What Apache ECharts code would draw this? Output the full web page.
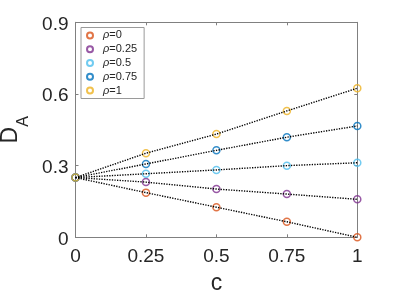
<!DOCTYPE html>
<html>
<head>
<meta charset="utf-8">
<script src="https://cdn.jsdelivr.net/npm/echarts@6/dist/echarts.min.js"></script>
<style>
html,body{margin:0;padding:0;background:#fff;}
#main{width:395px;height:296px;}
</style>
</head>
<body>
<div id="main"></div>
<script>
// Data
const cValues = [0, 0.25, 0.5, 0.75, 1];
const rhoLabels = ['0', '0.25', '0.5', '0.75', '1'];
const rho0 = [0.25, 0.187, 0.126, 0.065, 0.0];
const rho025 = [0.25, 0.231, 0.202, 0.181, 0.159];
const rho05 = [0.25, 0.266, 0.282, 0.300, 0.312];
const rho075 = [0.25, 0.307, 0.364, 0.419, 0.466];
const rho1 = [0.25, 0.352, 0.432, 0.529, 0.624];
const xTicks = [0, 0.25, 0.5, 0.75, 1];
const yTicks = [0, 0.3, 0.6, 0.9];

const seriesValues = [rho0, rho025, rho05, rho075, rho1];
const colors = ['#D95319', '#7E2F8E', '#4DBEEE', '#0072BD', '#EDB120'];
const FONT = 'Liberation Sans';
const axisGray = '#808080';
const textColor = '#262626';

const lineSeries = seriesValues.map((vals, i) => ({
  name: 'fit' + i,
  type: 'line',
  xAxisIndex: 0, yAxisIndex: 0,
  data: cValues.map((c, j) => [c, vals[j]]),
  symbol: 'none',
  lineStyle: { color: '#000', width: 1.4, type: [1.3, 1.3] },
  z: 3,
  silent: true
}));
const scatterSeries = seriesValues.map((vals, i) => ({
  name: 'ρ=' + rhoLabels[i],
  type: 'scatter',
  xAxisIndex: 0, yAxisIndex: 0,
  data: cValues.map((c, j) => [c, vals[j]]),
  symbol: 'circle',
  symbolSize: 7,
  itemStyle: { color: 'rgba(255,255,255,0)', borderColor: colors[i], borderWidth: 1.5 },
  z: 2
}));

const chart = echarts.init(document.getElementById('main'), null, { renderer: 'canvas' });
chart.setOption({
  animation: false,
  backgroundColor: '#fff',
  grid: { left: 75.5, right: 37.7, top: 22.3, bottom: 58.7, show: false, containLabel: false, outerBoundsMode: 'none' },
  legend: {
    data: rhoLabels.map(r => 'ρ=' + r),
    orient: 'vertical',
    left: 81, top: 27.5,
    padding: [1, 7, 1, 5],
    itemGap: 0,
    itemWidth: 16, itemHeight: 6,
    backgroundColor: '#fff',
    borderColor: '#9a9a9a', borderWidth: 1,
    selectedMode: false,
    formatter: name => '{i|ρ}{t|' + name.slice(1) + '}',
    textStyle: {
      fontFamily: FONT, fontSize: 11, color: textColor, lineHeight: 13.8,
      rich: {
        i: { fontFamily: FONT, fontSize: 11, fontStyle: 'italic', color: textColor, lineHeight: 13.8 },
        t: { fontFamily: FONT, fontSize: 11, color: textColor, lineHeight: 13.8 }
      }
    }
  },
  xAxis: [
    {
      type: 'value', min: 0, max: 1, interval: 0.25, position: 'bottom',
      name: 'c', nameLocation: 'middle', nameGap: 35,
      nameTextStyle: { fontFamily: FONT, fontSize: 23, color: textColor },
      axisLine: { show: true, lineStyle: { color: axisGray, width: 1 } },
      axisTick: { show: true, inside: true, length: 3, lineStyle: { color: axisGray } },
      axisLabel: { fontFamily: FONT, fontSize: 19, color: textColor, margin: 10,
        formatter: v => String(xTicks.find(t => Math.abs(t - v) < 1e-9) ?? v) },
      splitLine: { show: false }
    },
    {
      type: 'value', min: 0, max: 1, interval: 0.25, position: 'top',
      axisLine: { show: true, onZero: false, lineStyle: { color: axisGray, width: 1 } },
      axisTick: { show: true, inside: true, length: 3, lineStyle: { color: axisGray } },
      axisLabel: { show: false },
      splitLine: { show: false }
    }
  ],
  yAxis: [
    {
      type: 'value', min: 0, max: 0.9, interval: 0.3, position: 'left',
      name: '{d|D}{s|A}', nameLocation: 'middle', nameGap: 34.5,
      nameTextStyle: {
        fontFamily: FONT, fontSize: 23, color: textColor,
        rich: {
          d: { fontFamily: FONT, fontSize: 23, color: textColor },
          s: { fontFamily: FONT, fontSize: 16, color: textColor, padding: [25, 0, 0, 0] }
        }
      },
      axisLine: { show: true, onZero: false, lineStyle: { color: axisGray, width: 1 } },
      axisTick: { show: true, inside: true, length: 3, lineStyle: { color: axisGray } },
      axisLabel: { fontFamily: FONT, fontSize: 19, color: textColor, margin: 7,
        formatter: v => '{v|' + String(yTicks.find(t => Math.abs(t - v) < 1e-9) ?? v) + '}',
        rich: { v: { fontFamily: FONT, fontSize: 19, color: textColor, padding: [4.5, 0, 0, 0] } } },
      splitLine: { show: false }
    },
    {
      type: 'value', min: 0, max: 0.9, interval: 0.3, position: 'right',
      axisLine: { show: true, onZero: false, lineStyle: { color: axisGray, width: 1 } },
      axisTick: { show: true, inside: true, length: 3, lineStyle: { color: axisGray } },
      axisLabel: { show: false },
      splitLine: { show: false }
    }
  ],
  series: lineSeries.concat(scatterSeries)
});
</script>
</body>
</html>
